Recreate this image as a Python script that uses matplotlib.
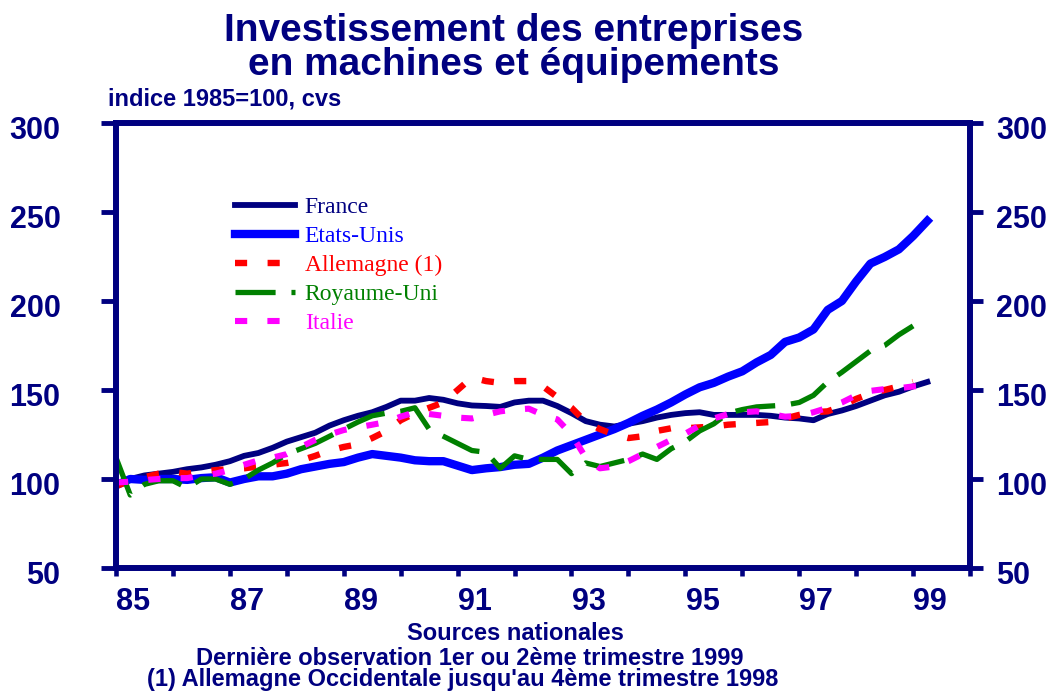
import numpy as np
import matplotlib
matplotlib.use("Agg")
from matplotlib import pyplot as plt
from matplotlib.transforms import ScaledTranslation

plt.rcParams["font.family"] = ["Liberation Sans", "DejaVu Sans"]
NAVY = "#000080"

# quarterly index, 1985Q1 .. 1999Q2 (1985=100, cvs)
france = [96, 100, 102, 103, 104, 105.5, 106.5, 108, 110, 113, 114.6, 117.5,
          121, 123.5, 126, 130, 133, 135.5, 137.5, 140.5, 144, 144, 145.5, 144.5,
          142.5, 141.3, 141, 140.5, 143, 144, 144, 141, 137, 132.5, 130.5, 129.5,
          131, 132.5, 134.5, 136, 137, 137.5, 136, 136, 136, 136, 135.5, 134.5,
          134, 133, 136.5, 138.5, 141, 144, 147, 149, 152, 154.5]
etats_unis = [96.5, 100, 99.5, 100, 100, 99.5, 100.5, 101, 98, 100, 101.5, 101.5,
              103, 105.5, 107, 108.5, 109.5, 112, 114, 113, 112, 110.5, 110, 110,
              107.5, 105, 106, 106.7, 108, 108.5, 112, 116, 119, 122, 125, 128,
              131.5, 135.5, 139, 143, 147.5, 151.5, 154, 157.5, 160.5, 165.5, 169.7, 177,
              179.5, 184, 195, 200, 211, 221, 224.7, 229, 236.5, 245]
allemagne = [96, 99, 101, 103, 104, 103, 104, 105, 105.5, 106, 107, 108,
             109, 110.5, 113, 116, 118, 119.5, 123, 127, 133, 137, 140, 143,
             150, 157, 155, 154, 155, 155, 152, 146, 140, 132, 128, 125,
             123, 124, 127, 128.5, 128.5, 129, 129.5, 130.5, 131, 131.5, 132, 134,
             136, 137.5, 138, 141, 145, 148, 150, 152, 154.5]
royaume_uni = [112, 91, 97, 99, 99, 95, 100, 100, 97, 100, 105, 109,
               114, 117, 120, 124, 128, 132, 135.5, 137, 138, 140, 128, 124,
               120, 116, 115, 106, 113, 111, 111, 111, 103, 109, 107, 109,
               111, 114, 111, 117, 121, 127, 131, 137, 139, 140.5, 141, 141.5,
               143, 147, 154.5, 160, 166, 172, 175, 181, 186]
italie = [98, 98.5, 99.4, 100, 100.5, 100.5, 102, 103, 105, 108, 110.5, 112,
          114, 118, 122, 125, 127.5, 129, 130.5, 132, 135, 137.5, 136.5, 135.5,
          134.5, 134, 136, 138, 139, 139.5, 136, 133.5, 125, 112, 106, 107,
          110, 114, 118, 122, 125.5, 130, 134, 136.5, 137.5, 138, 136.5, 135,
          135.5, 137.5, 140, 143, 147, 149.5, 150.5, 151, 152, 152.5]

def quarters(values):
    return 85 + np.arange(len(values)) / 4.0

fig = plt.figure(figsize=(10.47, 6.92), dpi=100)
ax = fig.add_axes([0.1108, 0.1792, 0.8157, 0.6431])

ax.plot(quarters(france), france, color=NAVY, lw=4.2, label="France")
ax.plot(quarters(etats_unis), etats_unis, color="#0000ff", lw=6, label="Etats-Unis")
ax.plot(quarters(allemagne), allemagne, color="#ff0000", lw=4.6,
        dashes=(1.9, 3.2), label="Allemagne (1)")
ax.plot(quarters(royaume_uni), royaume_uni, color="#008000", lw=3.8,
        dashes=(7.6, 3.0), label="Royaume-Uni")
ax.plot(quarters(italie), italie, color="#ff00ff", lw=4.4,
        dashes=(2.0, 3.3), label="Italie")

ax.set_xlim(85, 100)
ax.set_ylim(50, 300)
for s in ax.spines.values():
    s.set_color(NAVY)
    s.set_linewidth(4.3)

# year ticks, labels on odd years shifted right
ax.set_xticks(np.arange(85, 101))
ax.set_xticklabels([])
odd = np.arange(85, 100, 2)
ax.set_xticks(odd + 0.3, minor=True)
ax.set_xticklabels([str(y) for y in odd], minor=True)
ax.tick_params(axis="x", which="major", direction="out", length=6, width=3.3, color=NAVY)
ax.tick_params(axis="x", which="minor", length=0, pad=14, labelsize=22, labelcolor=NAVY)
for t in ax.get_xticklabels(minor=True):
    t.set_fontweight("bold")

yt = np.arange(50, 301, 50)
down = ScaledTranslation(0, -5 / 100, fig.dpi_scale_trans)
ax.set_yticks(yt)
ax.set_yticklabels([str(v) for v in yt], fontsize=22, fontweight="bold", color=NAVY)
ax.tick_params(axis="y", direction="out", length=11, width=3.5, color=NAVY, pad=29)
for t in ax.get_yticklabels():
    t.set_transform(t.get_transform() + down)

ax2 = ax.twinx()
ax2.set_ylim(50, 300)
ax2.set_yticks(yt)
ax2.set_yticklabels([str(v) for v in yt], fontsize=22, fontweight="bold", color=NAVY)
ax2.tick_params(axis="y", direction="out", length=9, width=3.5, color=NAVY, pad=10)
for t in ax2.get_yticklabels():
    t.set_transform(t.get_transform() + down)
for s in ax2.spines.values():
    s.set_visible(False)

leg = ax.legend(loc="upper left", bbox_to_anchor=(0.139, 0.835), frameon=False,
                borderpad=0, borderaxespad=0, handlelength=2.55, handletextpad=0.42,
                labelspacing=0.32, prop={"family": "Liberation Serif", "size": 17})
for txt, line in zip(leg.get_texts(), leg.get_lines()):
    txt.set_color(line.get_color())

fig.text(0.491, 0.941, "Investissement des entreprises", ha="center", va="baseline",
         fontsize=28, fontweight="bold", color=NAVY)
fig.text(0.491, 0.891, "en machines et équipements", ha="center", va="baseline",
         fontsize=28, fontweight="bold", color=NAVY)
fig.text(0.103, 0.847, "indice 1985=100, cvs", ha="left", va="baseline",
         fontsize=17, fontweight="bold", color=NAVY)

fig.text(0.492, 0.075, "Sources nationales", ha="center", va="baseline",
         fontsize=17, fontweight="bold", color=NAVY)
fig.text(0.449, 0.039, "Dernière observation 1er ou 2ème trimestre 1999", ha="center",
         va="baseline", fontsize=17, fontweight="bold", color=NAVY)
fig.text(0.442, 0.008, "(1) Allemagne Occidentale jusqu'au 4ème trimestre 1998", ha="center",
         va="baseline", fontsize=17, fontweight="bold", color=NAVY)

fig.savefig("out.png", dpi=100)
